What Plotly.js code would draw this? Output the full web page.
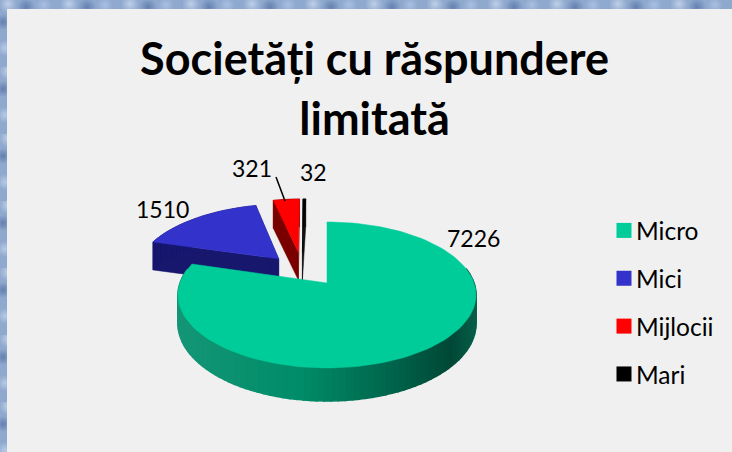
<!DOCTYPE html>
<html><head><meta charset="utf-8">
<script src="https://cdn.plot.ly/plotly-3.0.1.min.js"></script>
<style>
html,body{margin:0;padding:0;width:732px;height:452px;overflow:hidden;background-color:#8fa8ce;}
body{background-image:
 radial-gradient(circle 9px at 8px 4px,rgba(205,220,240,.75),rgba(205,220,240,0)),
 radial-gradient(circle 9px at 26px 7px,rgba(85,115,165,.75),rgba(85,115,165,0)),
 radial-gradient(circle 8px at 3px 22px,rgba(80,110,160,.7),rgba(80,110,160,0)),
 radial-gradient(circle 8px at 5px 48px,rgba(195,214,240,.75),rgba(195,214,240,0)),
 radial-gradient(circle 8px at 44px 5px,rgba(180,202,234,.7),rgba(180,202,234,0));
background-size:61px 67px;}
#chart{position:absolute;left:7px;top:9px;width:725px;height:443px;}
</style></head><body><div id="chart"></div>
<script>
const categories=["Micro","Mici","Mijlocii","Mari"];
const seriesValues=[7226,1510,321,32];
const sliceColors=["#00CC99","#3333CC","#FF0000","#000000"];
const sideColors=[null,"#17176e","#7a0000","#111111"];
const labelAt=[[473,238],[162,209],[252,168],[313,172]];
// explode offsets in the pie's own ground plane
const explode=[[0,0],[-0.348,-0.36],[-0.21,-0.47],[-0.18,-0.47]];
const titleText="Societăți cu răspundere<br>limitată";
const font="Lato, 'Noto Sans', sans-serif";

const cx=327,cy=283,R=147,S=71,K=0.164,DEPTH=28;
function project(u,v){const w=1-K*v;return [cx+R*u/w,cy+S*v/w];}
function rim(a,ex,ey){return project(Math.sin(a)+ex,-Math.cos(a)+ey);}
const total=seriesValues.reduce((a,b)=>a+b,0);
let start=0;const traces=[];
function depthAt(y){return DEPTH+Math.max(0,(y-283))*0.06;}
function closed(pts,color,lw){return {x:pts.map(p=>p[0]).concat(pts[0][0]),y:pts.map(p=>p[1]).concat(pts[0][1]),
  mode:"lines",fill:"toself",fillcolor:color,line:{width:lw===undefined?0.5:lw,color:color},hoverinfo:"skip",showlegend:false,type:"scatter"};}
function mix(a,b,t){return "rgb("+a.map((c,i)=>Math.round(c+(b[i]-c)*t)).join(",")+")";}
function sideGrad(x){
  const stops=[[178,[20,150,118]],[300,[0,140,104]],[400,[0,96,72]],[450,[0,72,54]],[477,[8,96,74]]];
  for(let i=0;i<stops.length-1;i++){if(x<=stops[i+1][0]){const t=Math.max(0,(x-stops[i][0])/(stops[i+1][0]-stops[i][0]));return mix(stops[i][1],stops[i+1][1],t);}}
  return mix(stops[4][1],stops[4][1],0);
}
const tops=[];
seriesValues.forEach((val,i)=>{
  const a0=start,a1=start+val/total*2*Math.PI;start=a1;
  const [ex,ey]=explode[i];
  const arc=[];const n=Math.max(3,Math.ceil((a1-a0)/0.04));
  for(let k=0;k<=n;k++)arc.push(rim(a0+(a1-a0)*k/n,ex,ey));
  const apex=project(ex,ey);
  tops.push({i,arc,apex});
});
// draw order: small exploded slices behind, big slice in front
[1,2,3,0].forEach(i=>{
  const {arc,apex}=tops[i];
  const poly=[apex].concat(arc);
  if(i===0){
    for(let k=0;k<arc.length-1;k++){
      const p=arc[k],q=arc[k+1];
      if(p[1]<270&&q[1]<270)continue;
      traces.push(closed([p,q,[q[0],q[1]+depthAt(q[1])],[p[0],p[1]+depthAt(p[1])]],sideGrad((p[0]+q[0])/2),1.5));
    }
  }else{
    for(let k=0;k<poly.length;k++){
      const p=poly[k],q=poly[(k+1)%poly.length];
      traces.push(closed([p,q,[q[0],q[1]+DEPTH],[p[0],p[1]+DEPTH]],sideColors[i]));
    }
  }
  traces.push(closed(poly,sliceColors[i]));
});
// legend entries
categories.forEach((c,i)=>traces.push({type:"scatter",mode:"markers",x:[null],y:[null],name:c,legendgroup:c,
  marker:{symbol:"square",size:15,color:sliceColors[i]},hoverinfo:"skip"}));

const annotations=seriesValues.map((v,i)=>({x:labelAt[i][0],y:labelAt[i][1],xref:"x",yref:"y",text:String(v),showarrow:false,
  font:{family:font,size:23,color:"#000"},xanchor:"center",yanchor:"middle"}));
const layout={width:725,height:443,margin:{l:0,r:0,t:0,b:0},paper_bgcolor:"#f0f0f0",plot_bgcolor:"#f0f0f0",
  xaxis:{range:[7,732],visible:false,fixedrange:true},
  yaxis:{range:[452,9],visible:false,fixedrange:true},
  title:{text:titleText.replace(/^(.*)<br>(.*)$/,'<span style="font-size:45px">$1</span><br><span style="font-size:45px">$2</span>'),
    font:{family:font,size:46,color:"#000",weight:700},x:0.507,xanchor:"center",y:0.85,yanchor:"top"},
  legend:{x:0.8124,xanchor:"left",y:0.3375,yanchor:"middle",font:{family:font,size:24.5,color:"#000"},tracegroupgap:13,itemwidth:30,bgcolor:"rgba(0,0,0,0)",traceorder:"grouped"},
  annotations,
  shapes:[{type:"line",xref:"x",yref:"y",x0:276,y0:177,x1:285,y1:201,line:{color:"#000",width:1.5}}],
  showlegend:true};
Plotly.newPlot("chart",traces,layout,{displayModeBar:false,staticPlot:true}).then(()=>{
  // the reference's swatches sit closer to their labels than Plotly's default gap
  document.querySelectorAll("#chart .legendpoints").forEach(g=>g.setAttribute("transform","translate(8,0)"));
});
</script></body></html>
